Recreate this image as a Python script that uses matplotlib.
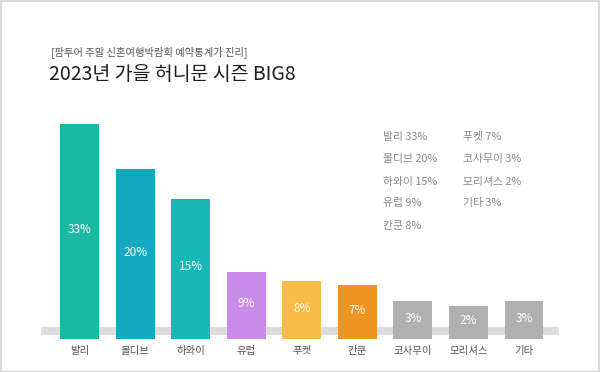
import matplotlib
matplotlib.use("Agg")
import matplotlib.pyplot as plt
from matplotlib.patches import Rectangle

plt.rcParams['font.family'] = ['Noto Sans CJK KR', 'DejaVu Sans']

categories = ['발리', '몰디브', '하와이', '유럽', '푸켓', '칸쿤', '코사무이', '모리셔스', '기타']
values = [33, 20, 15, 9, 8, 7, 3, 2, 3]
# displayed bar heights as drawn in the reference (not proportional to values)
bar_heights = [215, 170, 140, 67, 58, 54, 38, 33, 38]
colors = ['#1bb8a2', '#15a9c0', '#16b9b7', '#c98be8', '#f9bb48', '#ee9521',
          '#b0b0b0', '#b0b0b0', '#b0b0b0']
subtitle = '[팜투어 주말 신혼여행박람회 예약통계가 진리]'
title = '2023년 가을 허니문 시즌 BIG8'
legend_col1 = ['발리 33%', '몰디브 20%', '하와이 15%', '유럽 9%', '칸쿤 8%']
legend_col2 = ['푸켓 7%', '코사무이 3%', '모리셔스 2%', '기타 3%']

W, H = 600, 372
fig = plt.figure(figsize=(W / 100, H / 100), dpi=100)
fig.patch.set_facecolor('white')

# outer frame
fig.patches.append(Rectangle((0.5 / W, 0.5 / H), 1 - 1.5 / W, 1 - 1.5 / H,
                             transform=fig.transFigure, fill=False,
                             edgecolor='#d9d9d9', linewidth=1.5))

def fx(px):
    return px / W

def fy(py):
    return 1 - py / H

sp = 55.56
x0 = -0.75
x1 = 8.75
left_px = 79.5 + x0 * sp
width_px = (x1 - x0) * sp
ytop = 230
ax = fig.add_axes([fx(left_px), fy(339), fx(width_px), ytop / H])
ax.set_xlim(x0, x1)
ax.set_ylim(0, ytop)
ax.axis('off')

# gray base strip
ax.axhspan(4, 12, xmin=(-0.69 - x0) / (x1 - x0), xmax=(8.63 - x0) / (x1 - x0),
           color='#dcdcdc', zorder=1, linewidth=0)

xs = list(range(len(categories)))
ax.bar(xs, bar_heights, width=0.70, color=colors, zorder=2, linewidth=0)

for x, h, v in zip(xs, bar_heights, values):
    ax.text(x, h / 2 + 2, f'{v}%', ha='center', va='center', color='white',
            fontsize=8.5, fontweight='medium', zorder=3)
    ax.text(x, -12, categories[x], ha='center', va='center', color='#555555',
            fontsize=7.5, clip_on=False)

fig.text(fx(51), fy(52), subtitle, ha='left', va='center', color='#555555', fontsize=7.4)
fig.text(fx(49), fy(75), title, ha='left', va='center', color='#1e1e1e',
         fontsize=14, fontweight='medium')

rows = [137, 159.5, 181.5, 203.5, 226.5]
for r, t in zip(rows, legend_col1):
    fig.text(fx(383), fy(r), t, ha='left', va='center', color='#888888', fontsize=7.8)
for r, t in zip(rows, legend_col2):
    fig.text(fx(463), fy(r), t, ha='left', va='center', color='#888888', fontsize=7.8)

fig.savefig('out.png', dpi=100, facecolor='white')
